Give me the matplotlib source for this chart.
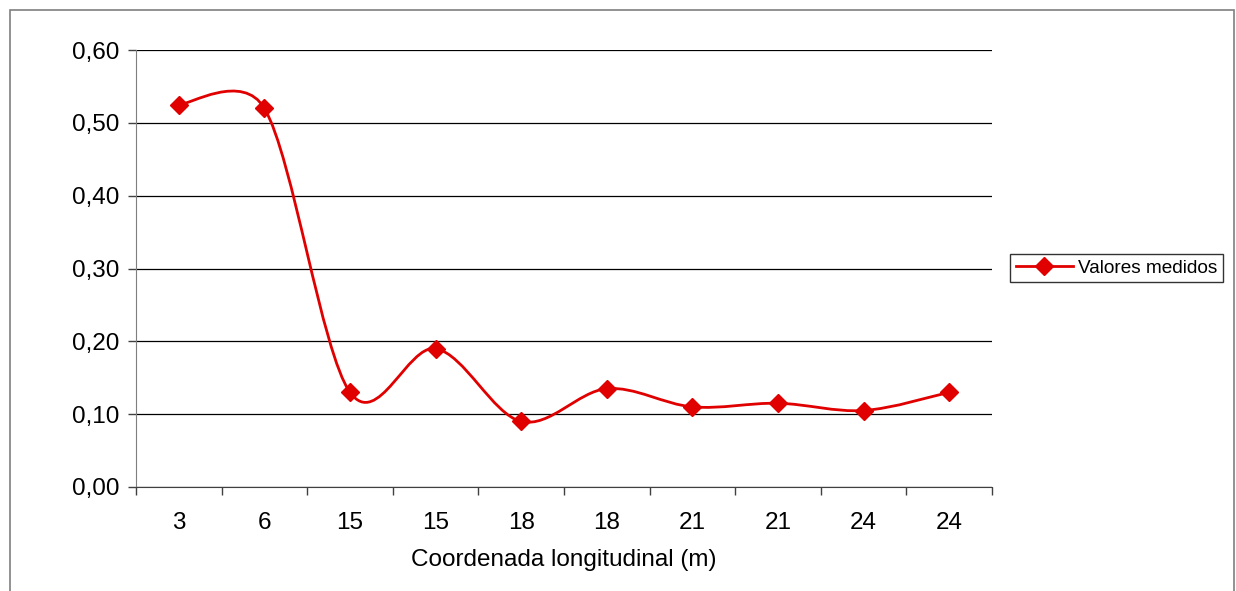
import numpy as np
import matplotlib.pyplot as plt
from matplotlib.path import Path
from matplotlib.patches import PathPatch, Rectangle
from matplotlib.lines import Line2D

plt.rcParams['font.family'] = ['Liberation Sans', 'DejaVu Sans']

# dados
categorias = ['3', '6', '15', '15', '18', '18', '21', '21', '24', '24']
valores = [0.525, 0.52, 0.13, 0.19, 0.09, 0.135, 0.11, 0.115, 0.105, 0.13]
yticks = [0.0, 0.1, 0.2, 0.3, 0.4, 0.5, 0.6]
ytick_labels = ['0,00', '0,10', '0,20', '0,30', '0,40', '0,50', '0,60']

vermelho = '#E00000'

fig = plt.figure(figsize=(12.36, 5.91), dpi=100)
ax = fig.add_axes([136 / 1236, 1 - 487 / 591, (992 - 136) / 1236, (487 - 50) / 591])

# moldura externa do gráfico
fig.patches.append(Rectangle((10 / 1236, -0.05), (1234 - 10) / 1236, 1.05 - 10 / 591,
                             transform=fig.transFigure, fill=False,
                             edgecolor='#7f7f7f', linewidth=1.2))

ax.set_xlim(-0.5, len(valores) - 0.5)
ax.set_ylim(0, 0.6)

x = np.arange(len(valores))
y = np.array(valores)

# linha suavizada (bezier como no Excel, calculada em pixels)
pts = ax.transData.transform(np.column_stack([x, y]))
ext = np.vstack([pts[0], pts, pts[-1]])
verts = [pts[0]]
codes = [Path.MOVETO]
for i in range(len(pts) - 1):
    p0, p1, p2, p3 = ext[i], ext[i + 1], ext[i + 2], ext[i + 3]
    d02 = np.hypot(*(p2 - p0))
    d12 = np.hypot(*(p2 - p1))
    d13 = np.hypot(*(p3 - p1))
    b0 = d02 / 6 < d12 / 2
    b1 = d13 / 6 < d12 / 2
    if b0 and b1:
        f0 = f1 = 1 / 6
    elif not b0 and not b1:
        f0 = d12 / 2 / d02
        f1 = d12 / 2 / d13
    elif not b0:
        f0 = f1 = d12 / 2 / d02
    else:
        f0 = f1 = d12 / 2 / d13
    c1 = p1 + (p2 - p0) * f0
    c2 = p2 - (p3 - p1) * f1
    verts += [c1, c2, p2]
    codes += [Path.CURVE4] * 3
verts = ax.transData.inverted().transform(np.array(verts))
ax.add_patch(PathPatch(Path(verts, codes), fill=False, edgecolor=vermelho,
                       linewidth=2.0, zorder=3))
ax.plot(x, y, linestyle='none', marker='D', markersize=9, color=vermelho, zorder=4)

ax.set_yticks(yticks)
ax.set_yticklabels(ytick_labels)
ax.yaxis.grid(True, color='#000000', linewidth=0.9)
ax.set_axisbelow(True)

ax.set_xticks(np.arange(-0.5, len(valores), 1.0))
ax.set_xticklabels([])
ax.set_xticks(x, minor=True)
ax.set_xticklabels(categorias, minor=True)
ax.tick_params(axis='x', which='major', length=6, width=1, color='#404040', direction='out')
ax.tick_params(axis='x', which='minor', length=0, pad=18, labelsize=17.5)
ax.tick_params(axis='y', length=6, width=1, color='#404040', direction='out', pad=6, labelsize=17.5)

for s in ['top', 'right']:
    ax.spines[s].set_visible(False)
ax.spines['left'].set_color('#7f7f7f')
ax.spines['bottom'].set_color('#404040')

ax.set_xlabel('Coordenada longitudinal (m)', fontsize=17.5, labelpad=11)

h = Line2D([], [], color=vermelho, linewidth=2.0, marker='D', markersize=9)
leg = fig.legend([h], ['Valores medidos'], loc='center left',
                 bbox_to_anchor=(1010 / 1236, 1 - 268 / 591), fontsize=13.7,
                 frameon=True, fancybox=False, edgecolor='black',
                 handlelength=3.0, borderpad=0.3, handletextpad=0.3,
                 borderaxespad=0)
leg.get_frame().set_linewidth(1.0)

fig.savefig('out.png', dpi=100, facecolor='white')
